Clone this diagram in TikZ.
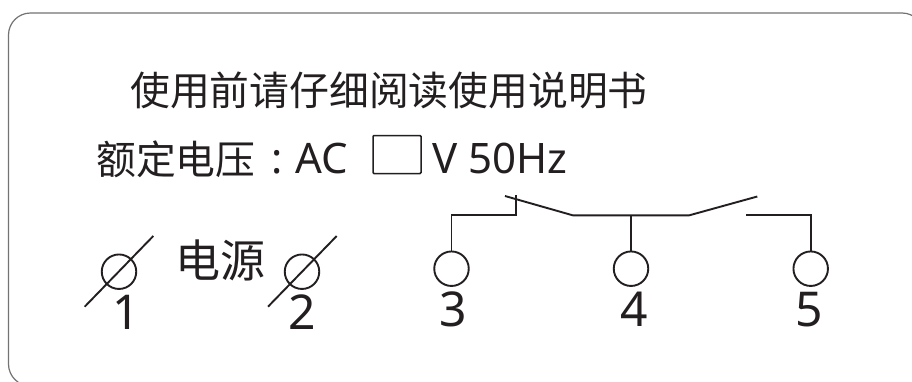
\documentclass[tikz,border=0pt]{standalone}
\usepackage{fontspec}
\setmainfont{Noto Sans}
\newfontfamily\cjk{Noto Sans CJK SC}
\definecolor{ink}{HTML}{231F20}
\tikzset{
  wire/.style={line width=1.9pt,draw=ink},
  border/.style={line width=1.2pt,draw=black!55},
  term/.style={circle,draw=ink,line width=1.9pt,minimum size=34.5pt,inner sep=0pt},
  lab/.style={inner sep=0pt,anchor=base west,text=ink},
  num/.style={inner sep=0pt,anchor=base,text=ink,font=\fontsize{48}{48}\selectfont},
}
\begin{document}
\begin{tikzpicture}[x=1pt,y=-1pt]
\useasboundingbox (0,0) rectangle (912,381);
\clip (0,0) rectangle (912,381);
\fill[white] (0,0) rectangle (912,381);
\draw[border,rounded corners=22pt] (8.5,13) rectangle (924,386);
\node[lab,font=\cjk\fontsize{39.8}{40}\selectfont] (title) at (130,105) {使用前请仔细阅读使用说明书};
\node[lab,font=\cjk\fontsize{39.8}{40}\selectfont] (rated) at (96,174) {额定电压};
\node[inner sep=0pt,anchor=base,text=ink,font=\fontsize{42}{42}\selectfont] (colon) at (277,173) {:};
\node[lab,font=\fontsize{42}{42}\selectfont] (ac) at (295,173) {AC};
\node[draw=ink,line width=1.5pt,rounded corners=1pt,minimum width=48pt,minimum height=38pt,inner sep=0pt] (blank) at (397,154.5) {};
\node[lab,font=\fontsize{42}{42}\selectfont] (volt) at (432,173) {V 50Hz};
\node[lab,font=\cjk\fontsize{45}{45}\selectfont] (power) at (175,277) {电源};
\node[term] (t1) at (119,271.7) {};
\node[term] (t2) at (302,271.7) {};
\node[term] (t3) at (451.5,268.7) {};
\node[term] (t4) at (631,268.7) {};
\node[term] (t5) at (810.7,268.7) {};
\coordinate (s1a) at (84.7,306.7); \coordinate (s1b) at (153.3,236);
\coordinate (s2a) at (268,306.7); \coordinate (s2b) at (336.7,236);
\draw[wire] (s1a) -- (s1b);
\draw[wire] (s2a) -- (s2b);
\node[num] (n1) at (126,329) {1};
\node[num] (n2) at (302,329) {2};
\node[num] (n3) at (453,326.3) {3};
\node[num] (n4) at (634.5,326.3) {4};
\node[num] (n5) at (809,326.3) {5};
\coordinate (c3) at (451.5,215.3); \coordinate (c3b) at (516,215.3); \coordinate (c3t) at (516,195);
\coordinate (ba) at (505,196); \coordinate (bb) at (572.7,215.3); \coordinate (bc) at (689.3,215.3); \coordinate (bd) at (757.3,196.5);
\coordinate (m) at (631,215.3);
\coordinate (e) at (746,215.3); \coordinate (e5) at (810.7,215.3);
\draw[wire] (t3.north) -- (c3) -- (c3b) -- (c3t);
\draw[wire] (ba) -- (bb) -- (bc) -- (bd);
\draw[wire] (m) -- (t4.north);
\draw[wire] (e) -- (e5) -- (t5.north);
\end{tikzpicture}
\end{document}
